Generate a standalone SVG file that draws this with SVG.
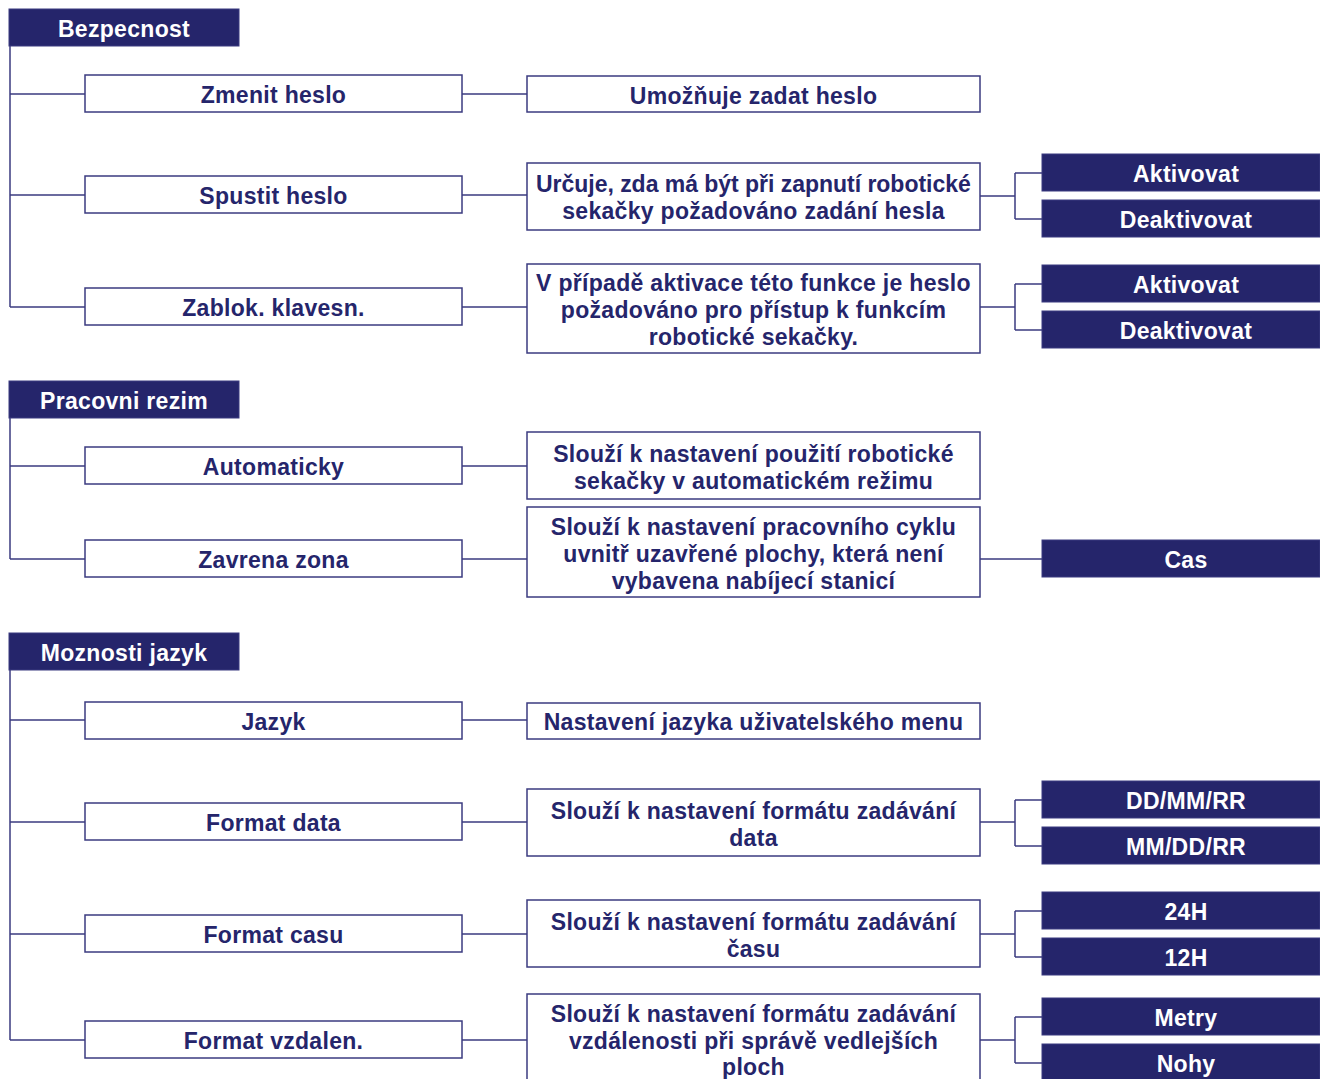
<svg xmlns="http://www.w3.org/2000/svg" width="1320" height="1079" viewBox="0 0 1320 1079">
<style>
.h rect{fill:#25256b;stroke:#3b3b80;stroke-width:1}
.h text{fill:#ffffff}
.b rect{fill:#ffffff;stroke:#3b3b80;stroke-width:1.5}
.b text{fill:#25256b}
.d rect{fill:#25256b;stroke:#3b3b80;stroke-width:1}
.d text{fill:#ffffff}
text{font-family:"Liberation Sans",Arial,sans-serif;font-weight:bold;font-size:23px;letter-spacing:0.3px;text-anchor:middle}
#connectors path{fill:none;stroke:#3b3b80;stroke-width:1.5}
</style>
<rect width="1320" height="1079" fill="#ffffff"/>
<g id="connectors">
<path d="M10,46 V307 M10,94 H85 M10,195 H85 M10,307 H85"/>
<path d="M462,94 H527 M462,195 H527 M462,307 H527"/>
<path d="M980,196 H1015 M1015,173 V219 M1015,173 H1042 M1015,219 H1042"/>
<path d="M980,307 H1015 M1015,284 V330 M1015,284 H1042 M1015,330 H1042"/>
<path d="M10,418 V559 M10,466 H85 M10,559 H85"/>
<path d="M462,466 H527 M462,559 H527 M980,559 H1042"/>
<path d="M10,670 V1040 M10,720 H85 M10,822 H85 M10,934 H85 M10,1040 H85"/>
<path d="M462,720 H527 M462,822 H527 M462,934 H527 M462,1040 H527"/>
<path d="M980,822 H1015 M1015,800 V846 M1015,800 H1042 M1015,846 H1042"/>
<path d="M980,934 H1015 M1015,911 V957 M1015,911 H1042 M1015,957 H1042"/>
<path d="M980,1040 H1015 M1015,1017 V1063 M1015,1017 H1042 M1015,1063 H1042"/>
</g>

<g id="bezpecnost" class="h"><rect x="9" y="9" width="230" height="37"/><text x="124" y="37">Bezpecnost</text></g>
<g id="zmenit-heslo" class="b"><rect x="85" y="75" width="377" height="37"/><text x="273.5" y="103">Zmenit heslo</text></g>
<g id="umoznuje" class="b"><rect x="527" y="76" width="453" height="36"/><text x="753.5" y="104">Umožňuje zadat heslo</text></g>
<g id="spustit-heslo" class="b"><rect x="85" y="176" width="377" height="37"/><text x="273.5" y="204">Spustit heslo</text></g>
<g id="urcuje" class="b"><rect x="527" y="163" width="453" height="67"/><text x="753.5" y="192" textLength="435" lengthAdjust="spacing">Určuje, zda má být při zapnutí robotické</text><text x="753.5" y="219">sekačky požadováno zadání hesla</text></g>
<g id="aktivovat-1" class="d"><rect x="1042" y="154" width="278" height="37"/><text x="1186" y="182">Aktivovat</text></g>
<g id="deaktivovat-1" class="d"><rect x="1042" y="200" width="278" height="37"/><text x="1186" y="228">Deaktivovat</text></g>
<g id="zablok" class="b"><rect x="85" y="288" width="377" height="37"/><text x="273.5" y="316">Zablok. klavesn.</text></g>
<g id="v-pripade" class="b"><rect x="527" y="264" width="453" height="89"/><text x="753.5" y="291">V případě aktivace této funkce je heslo</text><text x="753.5" y="318">požadováno pro přístup k funkcím</text><text x="753.5" y="345">robotické sekačky.</text></g>
<g id="aktivovat-2" class="d"><rect x="1042" y="265" width="278" height="37"/><text x="1186" y="293">Aktivovat</text></g>
<g id="deaktivovat-2" class="d"><rect x="1042" y="311" width="278" height="37"/><text x="1186" y="339">Deaktivovat</text></g>

<g id="pracovni-rezim" class="h"><rect x="9" y="381" width="230" height="37"/><text x="124" y="409">Pracovni rezim</text></g>
<g id="automaticky" class="b"><rect x="85" y="447" width="377" height="37"/><text x="273.5" y="475">Automaticky</text></g>
<g id="slouzi-auto" class="b"><rect x="527" y="432" width="453" height="67"/><text x="753.5" y="462">Slouží k nastavení použití robotické</text><text x="753.5" y="489">sekačky v automatickém režimu</text></g>
<g id="zavrena-zona" class="b"><rect x="85" y="540" width="377" height="37"/><text x="273.5" y="568">Zavrena zona</text></g>
<g id="slouzi-cyklus" class="b"><rect x="527" y="507" width="453" height="90"/><text x="753.5" y="535">Slouží k nastavení pracovního cyklu</text><text x="753.5" y="562">uvnitř uzavřené plochy, která není</text><text x="753.5" y="589">vybavena nabíjecí stanicí</text></g>
<g id="cas" class="d"><rect x="1042" y="540" width="278" height="37"/><text x="1186" y="568">Cas</text></g>

<g id="moznosti-jazyk" class="h"><rect x="9" y="633" width="230" height="37"/><text x="124" y="661">Moznosti jazyk</text></g>
<g id="jazyk" class="b"><rect x="85" y="702" width="377" height="37"/><text x="273.5" y="730">Jazyk</text></g>
<g id="nastaveni-jazyka" class="b"><rect x="527" y="703" width="453" height="36"/><text x="753.5" y="730">Nastavení jazyka uživatelského menu</text></g>
<g id="format-data" class="b"><rect x="85" y="803" width="377" height="37"/><text x="273.5" y="831">Format data</text></g>
<g id="slouzi-data" class="b"><rect x="527" y="789" width="453" height="67"/><text x="753.5" y="819">Slouží k nastavení formátu zadávání</text><text x="753.5" y="846">data</text></g>
<g id="ddmmrr" class="d"><rect x="1042" y="781" width="278" height="37"/><text x="1186" y="809">DD/MM/RR</text></g>
<g id="mmddrr" class="d"><rect x="1042" y="827" width="278" height="37"/><text x="1186" y="855">MM/DD/RR</text></g>
<g id="format-casu" class="b"><rect x="85" y="915" width="377" height="37"/><text x="273.5" y="943">Format casu</text></g>
<g id="slouzi-casu" class="b"><rect x="527" y="900" width="453" height="67"/><text x="753.5" y="930">Slouží k nastavení formátu zadávání</text><text x="753.5" y="957">času</text></g>
<g id="h24" class="d"><rect x="1042" y="892" width="278" height="37"/><text x="1186" y="920">24H</text></g>
<g id="h12" class="d"><rect x="1042" y="938" width="278" height="37"/><text x="1186" y="966">12H</text></g>
<g id="format-vzdalen" class="b"><rect x="85" y="1021" width="377" height="37"/><text x="273.5" y="1049">Format vzdalen.</text></g>
<g id="slouzi-vzdalen" class="b"><rect x="527" y="994" width="453" height="94"/><text x="753.5" y="1022">Slouží k nastavení formátu zadávání</text><text x="753.5" y="1049">vzdálenosti při správě vedlejších</text><text x="753.5" y="1075">ploch</text></g>
<g id="metry" class="d"><rect x="1042" y="998" width="278" height="37"/><text x="1186" y="1026">Metry</text></g>
<g id="nohy" class="d"><rect x="1042" y="1044" width="278" height="37"/><text x="1186" y="1072">Nohy</text></g>
</svg>
